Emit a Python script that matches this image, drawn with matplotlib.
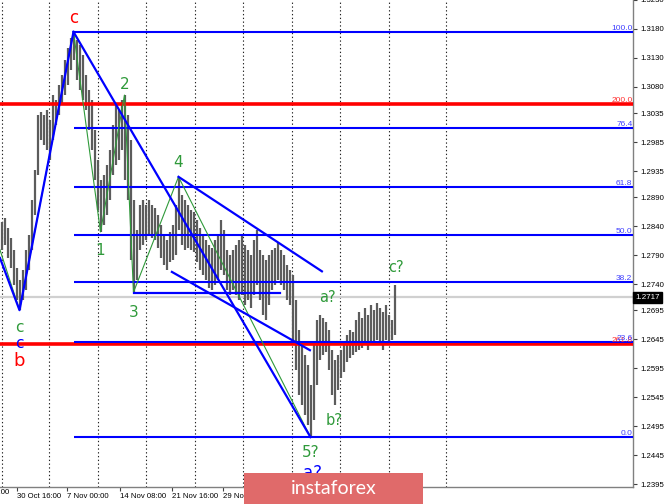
import matplotlib
matplotlib.use('Agg')
import matplotlib.pyplot as plt
import matplotlib.transforms as mtrans
from matplotlib.patches import Rectangle

# ---------------- data (GBP/USD bars) ----------------
highs = [1.2847, 1.2854, 1.2837, 1.2819, 1.2799, 1.2768, 1.2747, 1.2764, 1.2799, 1.2825,
         1.2885, 1.2937, 1.3032, 1.3037, 1.3032, 1.3040, 1.3023, 1.3066, 1.3057, 1.3083,
         1.3101, 1.3126, 1.3147, 1.3164, 1.3175, 1.3161, 1.3152, 1.3135, 1.3101, 1.3075,
         1.3057, 1.3006, 1.2954, 1.2919, 1.2928, 1.2945, 1.2971, 1.3014, 1.3049, 1.3040,
         1.3057, 1.3066, 1.3032, 1.2988, 1.2885, 1.2833, 1.2876, 1.2885, 1.2876, 1.2885,
         1.2876, 1.2871, 1.2859, 1.2842, 1.2825, 1.2816, 1.2830, 1.2842, 1.2876, 1.2925,
         1.2894, 1.2885, 1.2876, 1.2868, 1.2864, 1.2850, 1.2837, 1.2825, 1.2816, 1.2807,
         1.2802, 1.2816, 1.2825, 1.2850, 1.2833, 1.2799, 1.2790, 1.2799, 1.2807, 1.2816,
         1.2825, 1.2807, 1.2799, 1.2790, 1.2816, 1.2833, 1.2799, 1.2790, 1.2781, 1.2790,
         1.2799, 1.2802, 1.2811, 1.2799, 1.2790, 1.2773, 1.2764, 1.2756, 1.2712, 1.2661,
         1.2635, 1.2618, 1.2600, 1.2566, 1.2635, 1.2678, 1.2687, 1.2681, 1.2674, 1.2661,
         1.2626, 1.2609, 1.2618, 1.2626, 1.2640, 1.2652, 1.2661, 1.2657, 1.2678, 1.2692,
         1.2681, 1.2699, 1.2687, 1.2704, 1.2695, 1.2707, 1.2699, 1.2692, 1.2704, 1.2687,
         1.2678, 1.2738]
lows = [1.2799, 1.2807, 1.2785, 1.2768, 1.2738, 1.2712, 1.2695, 1.2712, 1.2730, 1.2764,
        1.2799, 1.2859, 1.2928, 1.2988, 1.2980, 1.2971, 1.2954, 1.2988, 1.3014, 1.3032,
        1.3049, 1.3066, 1.3083, 1.3109, 1.3126, 1.3092, 1.3075, 1.3057, 1.3040, 1.3006,
        1.2971, 1.2919, 1.2868, 1.2830, 1.2842, 1.2859, 1.2885, 1.2928, 1.2945, 1.2954,
        1.2971, 1.2919, 1.2885, 1.2781, 1.2726, 1.2747, 1.2799, 1.2807, 1.2816, 1.2825,
        1.2819, 1.2816, 1.2802, 1.2785, 1.2773, 1.2764, 1.2778, 1.2781, 1.2790, 1.2833,
        1.2807, 1.2799, 1.2802, 1.2799, 1.2795, 1.2778, 1.2764, 1.2756, 1.2747, 1.2733,
        1.2730, 1.2738, 1.2747, 1.2764, 1.2756, 1.2730, 1.2721, 1.2730, 1.2721, 1.2712,
        1.2721, 1.2704, 1.2712, 1.2699, 1.2721, 1.2738, 1.2712, 1.2687, 1.2678, 1.2704,
        1.2730, 1.2738, 1.2747, 1.2738, 1.2730, 1.2712, 1.2704, 1.2643, 1.2592, 1.2549,
        1.2531, 1.2514, 1.2497, 1.2476, 1.2505, 1.2566, 1.2609, 1.2618, 1.2623, 1.2592,
        1.2549, 1.2531, 1.2557, 1.2578, 1.2588, 1.2605, 1.2612, 1.2618, 1.2623, 1.2626,
        1.2630, 1.2635, 1.2626, 1.2635, 1.2640, 1.2643, 1.2635, 1.2626, 1.2643, 1.2635,
        1.2643, 1.2652]

# wave pivots (bar index, price)
wave_idx = [6, 24, 33, 41, 44, 59, 103]
wave_px = [1.2695, 1.3175, 1.2830, 1.3066, 1.2726, 1.2925, 1.2476]
lead_in = (-0.5, 1.2785)          # start of the blue c-leg (off chart)
lead_in_green = (-0.5, 1.2799)

# channel lines (bar index, price)
upper_ch = [(59, 1.2925), (106.8, 1.2762)]
lower_ch = [(56.8, 1.2761), (102.8, 1.2626)]
wave3_level = [(44, 1.2724), (92.8, 1.2724)]

fib_levels = [0.0, 23.6, 38.2, 50.0, 61.8, 76.4, 100.0]
red_levels = [1.3051, 1.2637]
red_labels = ['200.0', '261.8']
last_price = 1.2717

yticks = [1.3230, 1.3180, 1.3130, 1.3080, 1.3035, 1.2985, 1.2935, 1.2890, 1.2840,
          1.2790, 1.2740, 1.2695, 1.2645, 1.2595, 1.2545, 1.2495, 1.2445, 1.2395]
date_tick_idx = [5.17, 21.83, 39.5, 56.83, 73.83]
date_labels = ['30 Oct 16:00', '7 Nov 00:00', '14 Nov 08:00', '21 Nov 16:00', '29 Nov 00:00']
grid_idx = [0.17, 15.83, 32.17, 48.17, 64.5, 80.5, 96.83, 112.83, 129.17, 148.17]

# ---------------- figure ----------------
W, H = 665, 504
fig = plt.figure(figsize=(W / 100, H / 100), dpi=100)
fig.patch.set_facecolor('white')
ax = fig.add_axes([0, 17 / H, 633 / W, 487 / H])
ax.set_xlim(-0.5, 210.5)
ax.set_ylim(1.2390, 1.3230)

for s in ['top', 'left']:
    ax.spines[s].set_visible(False)
for s in ['right', 'bottom']:
    ax.spines[s].set_color('#808080')
    ax.spines[s].set_linewidth(1.0)

# grid
for g in grid_idx:
    ax.axvline(g, color='#222222', lw=0.8, ls=(0, (1.2, 2.2)), zorder=0)

# current price line
ax.axhline(last_price, color='#d0d0d0', lw=1.6, zorder=1)

# bars
idx = list(range(len(highs)))
ax.vlines(idx, lows, highs, colors='#5c5c5c', lw=1.6, zorder=2)

# red levels
for p, lab_ in zip(red_levels, red_labels):
    ax.axhline(p, color='#ff0000', lw=2.6, zorder=4)
    ax.text(210.3, p, lab_, color='#ff3030', fontsize=6, family='Liberation Sans',
            ha='right', va='bottom', zorder=6)

# fib levels (blue)
hi, lo = max(highs), min(lows)
top_i = wave_idx[1]
for lv in fib_levels:
    p = lo + lv / 100 * (hi - lo)
    ax.hlines(p, top_i, 210.5, color='#0000ff', lw=1.5, zorder=5)
    ax.text(210.3, p, f'{lv:.1f}', color='#4040ff', fontsize=6, family='Liberation Sans',
            ha='right', va='bottom', zorder=6)

blue = '#0000ff'
green = '#2f9a3a'

# green wave path
gx = [lead_in_green[0]] + wave_idx
gy = [lead_in_green[1]] + wave_px
ax.plot(gx, gy, color=green, lw=0.8, zorder=5)

# blue lines
ax.plot([lead_in[0], wave_idx[0], wave_idx[1]], [lead_in[1], wave_px[0], wave_px[1]],
        color=blue, lw=1.6, zorder=6)
ax.plot([wave_idx[1], wave_idx[6]], [wave_px[1], wave_px[6]], color=blue, lw=1.6, zorder=6)
for seg in (upper_ch, lower_ch, wave3_level):
    ax.plot([seg[0][0], seg[1][0]], [seg[0][1], seg[1][1]], color=blue, lw=1.6, zorder=6)

# labels
def lab(i, p, txt, color, size, dy):
    ax.annotate(txt, xy=(i, p), xytext=(0, dy), textcoords='offset pixels',
                ha='center', va='center', color=color, fontsize=size,
                family='DejaVu Sans', zorder=8, annotation_clip=False)

lab(wave_idx[1], wave_px[1], 'c', '#ff0000', 12, 14)
lab(wave_idx[2], wave_px[2], '1', green, 11, -19)
lab(wave_idx[3], wave_px[3], '2', green, 11, 11)
lab(wave_idx[4], wave_px[4], '3', green, 11, -20)
lab(wave_idx[5], wave_px[5], '4', green, 11, 14)
lab(wave_idx[6], wave_px[6], '5?', green, 11, -15)
lab(wave_idx[6] + 0.7, wave_px[6], 'a?', blue, 12, -36)
lab(wave_idx[0], wave_px[0], 'c', green, 11, -17)
lab(wave_idx[0], wave_px[0], 'c', blue, 11, -33)
lab(wave_idx[0], wave_px[0], 'b', '#ff0000', 13, -51)
lab(108.5, 1.2687, 'a?', green, 10.5, 17)
lab(111, 1.2531, 'b?', green, 10.5, -15)
lab(131.5, 1.2738, 'c?', green, 10.5, 18)

# axes ticks
ax.yaxis.tick_right()
ax.set_yticks(yticks)
ax.set_yticklabels([f'{v:.4f}' for v in yticks])
ax.tick_params(axis='y', direction='out', length=3, width=0.8, color='#404040',
               labelsize=5.6, pad=2)
ax.set_xticks(date_tick_idx)
ax.set_xticklabels(date_labels, ha='left')
ax.tick_params(axis='x', direction='out', length=3, width=0.8, color='#404040',
               labelsize=5.6, pad=1.5)
for t in ax.get_xticklabels() + ax.get_yticklabels():
    t.set_family('Liberation Sans')
fig.text(9 / W, 11 / H, '23 Oct 08:00', ha='right', va='center', fontsize=5.6,
         family='Liberation Sans')

# last price box
tr = mtrans.blended_transform_factory(ax.transAxes, ax.transData)
ax.text(1.004, last_price, '1.2717', transform=tr, ha='left', va='center', color='white',
        fontsize=5.8, family='Liberation Sans', zorder=9, clip_on=False,
        bbox=dict(boxstyle='square,pad=0.3', fc='black', ec='black'))

# banner
fig.add_artist(Rectangle((244 / W, 0), (423 - 244) / W, 31 / H, transform=fig.transFigure,
                         fc='#e06a6a', ec='none', zorder=20))
fig.text(333.5 / W, 16 / H, 'instaforex', color='white', fontsize=14, family='Lato',
         ha='center', va='center', zorder=21)

fig.savefig('out.png', dpi=100)
